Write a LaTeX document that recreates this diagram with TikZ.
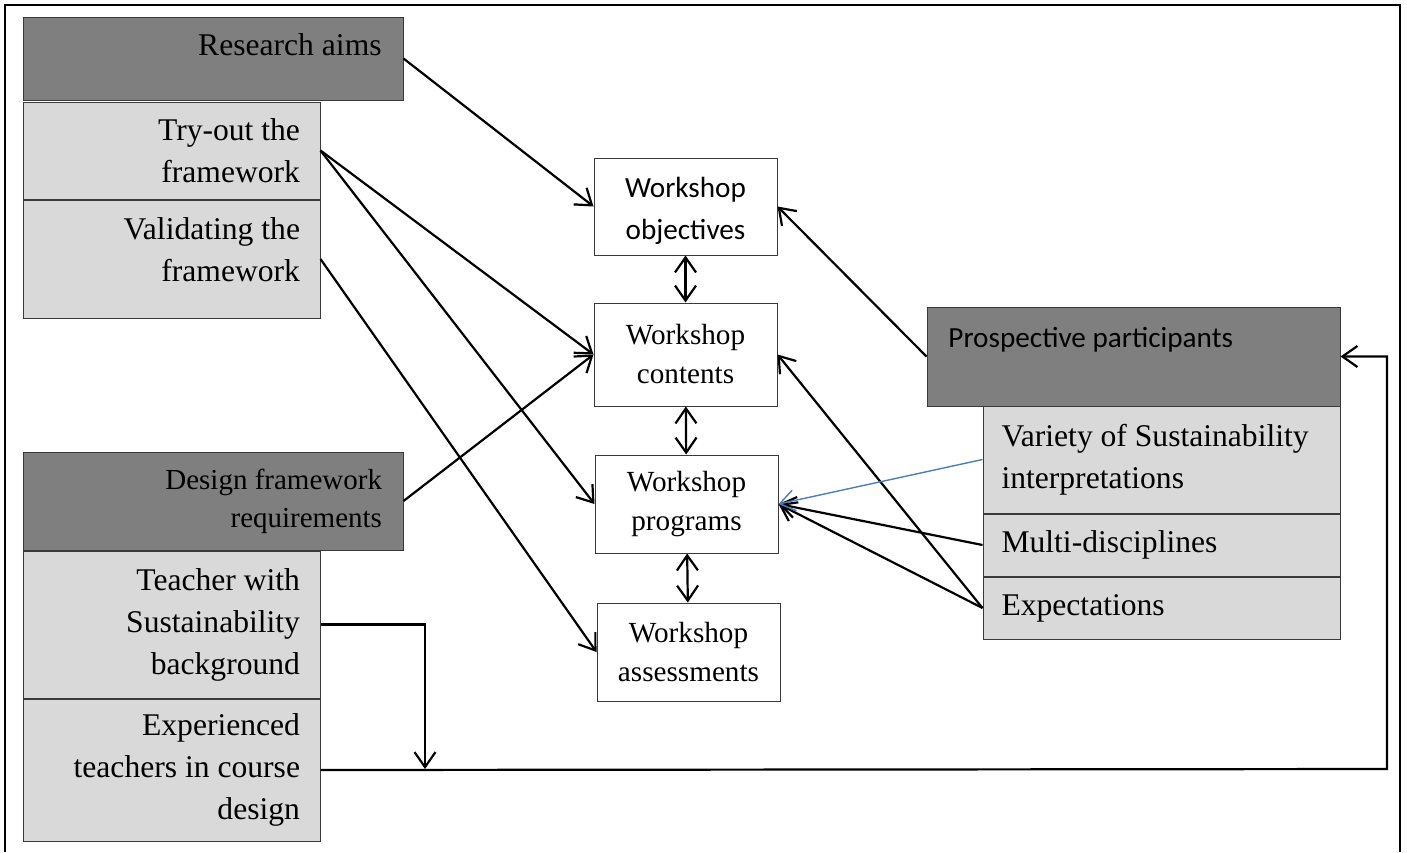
\documentclass[tikz,border=0pt]{standalone}
\usepackage{fontspec}
\setmainfont{Liberation Serif}
\newfontfamily\calfont{Carlito}
\usetikzlibrary{arrows.meta,positioning}

\definecolor{darkgrey}{HTML}{7F7F7F}
\definecolor{lightgrey}{HTML}{D9D9D9}
\definecolor{edgegrey}{HTML}{3A3A3A}
\definecolor{linkblue}{HTML}{4A7EBB}

\newcommand{\txtmain}{\fontsize{15.8}{21}\selectfont}
\newcommand{\txtdesign}{\fontsize{14.5}{19}\selectfont}
\newcommand{\txtcentre}{\fontsize{14.6}{19.5}\selectfont}
\newcommand{\txtcal}{\calfont\fontsize{14.6}{21}\selectfont}

\begin{document}
\begin{tikzpicture}[x=0.5pt,y=-0.5pt,>={Straight Barb[length=7.5pt,width=10.5pt]},font=\txtmain,
  darkbox/.style={draw=edgegrey,line width=0.5pt,fill=darkgrey,inner sep=0pt},
  leftbox/.style={draw=edgegrey,line width=0.5pt,fill=lightgrey,text width=128.5pt,align=flush right,inner xsep=10pt,inner ysep=0pt},
  rightbox/.style={draw=edgegrey,line width=0.5pt,fill=lightgrey,text width=160pt,align=flush left,inner xsep=9.25pt,inner ysep=0pt},
  wsbox/.style={draw=edgegrey,line width=0.5pt,fill=white,minimum width=91.5pt,align=center,inner sep=0pt},
  link/.style={->,line width=1.1pt}]
\useasboundingbox (0,0) rectangle (1407,852);
\draw[line width=0.8pt] (5,852) -- (5,5) -- (1400,5) -- (1400,852);

% left column
\node[darkbox,minimum width=190pt,minimum height=41.5pt] (aims) at (213,58.5) {};
\node[anchor=base east,inner sep=0pt] (aimstxt) at (382,55) {Research aims};
\node[leftbox,minimum height=48.5pt] (tryout) at (171.5,150.5) {Try-out the\\framework};
\node[leftbox,minimum height=59pt,below=0pt of tryout] (valid) {Validating the\\framework\\[-12pt]\mbox{}};
\node[darkbox,text width=169pt,inner xsep=10.5pt,align=flush right,minimum height=49pt,font=\txtdesign] (design) at (213,501) {Design framework\\requirements};
\node[leftbox,minimum height=73.5pt] (teacher) at (171.5,624.5) {Teacher with\\Sustainability\\background};
\node[leftbox,minimum height=71pt,below=0pt of teacher] (exper) {Experienced\\teachers in course\\design};

% workshop column
\node[wsbox,minimum height=48.5pt,font=\txtcal] (obj) at (685.5,206.5) {\rule{0pt}{14.5pt}Workshop\\objectives};
\node[wsbox,minimum height=51.5pt,font=\txtcentre] (cont) at (685.5,354.5) {Workshop\\contents};
\node[wsbox,minimum height=49pt,font=\txtcentre] (prog) at (686.5,504) {Workshop\\programs};
\node[wsbox,minimum height=49pt,font=\txtcentre] (assess) at (688.5,652) {Workshop\\assessments};
\foreach \a/\b in {obj/cont,cont/prog,prog/assess}
  \draw[<->,line width=1.1pt] (\a) -- (\b);

% right column
\node[darkbox,minimum width=206.5pt,minimum height=49.5pt] (prosp) at (1133.5,356.5) {};
\node[anchor=base west,inner sep=0pt,font=\txtcal] (prosptxt) at (948,347) {Prospective participants};
\node[rightbox,minimum height=53.5pt] (variety) at (1161.5,459.5) {Variety of Sustainability\\interpretations};
\node[rightbox,minimum height=31pt,below=0pt of variety] (multi) {Multi-disciplines};
\node[rightbox,minimum height=31pt,below=0pt of multi] (expect) {Expectations};

% links
\draw[link] (aims.east) -- (obj.west);
\draw[link] (tryout.east) -- (cont.west);
\draw[link] (tryout.east) -- (prog.west);
\draw[link] (valid.east) -- (assess.west);
\draw[link] (design.east) -- (cont.west);
\draw[link] (prosp.west) -- (obj.east);
\draw[link] (expect.west) -- (cont.east);
\draw[link] (expect.west) -- (prog.east);
\draw[link] (multi.west) -- (prog.east);
\draw[link,draw=linkblue,line width=0.7pt] (variety.west) -- (prog.east);
\coordinate (drop) at (425,769);
\coordinate (turn) at (1387,769);
\draw[link] (teacher.east) -| (drop);
\draw[link] (exper.east) -- (turn) |- (prosp.east);
\end{tikzpicture}
\end{document}
